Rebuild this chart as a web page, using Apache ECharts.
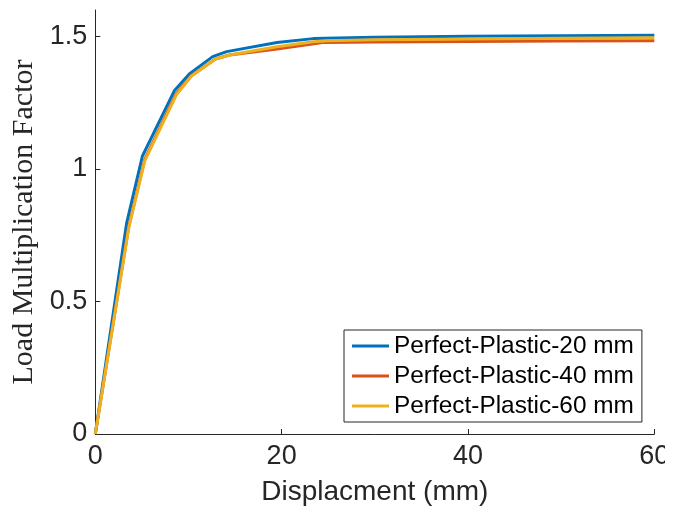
<!DOCTYPE html>
<html>
<head>
<meta charset="utf-8">
<script src="https://cdn.jsdelivr.net/npm/echarts@6/dist/echarts.min.js"></script>
<style>html,body{margin:0;padding:0;background:#fff}#c{width:665px;height:510px}</style>
</head>
<body>
<div id="c"></div>
<script>
const seriesNames = ['Perfect-Plastic-20 mm', 'Perfect-Plastic-40 mm', 'Perfect-Plastic-60 mm'];
const x20 = [0, 3.37, 5.05, 8.48, 10.16, 12.6, 14.1, 19.5, 23.4, 30, 40, 50, 60];
const y20 = [0, 0.797, 1.048, 1.295, 1.361, 1.424, 1.443, 1.477, 1.492, 1.497, 1.501, 1.503, 1.505];
const x40 = [0, 3.6, 5.3, 8.7, 10.3, 12.9, 14.4, 19.5, 24.4, 30, 40, 50, 60];
const y40 = [0, 0.785, 1.035, 1.285, 1.352, 1.415, 1.43, 1.453, 1.477, 1.479, 1.481, 1.483, 1.484];
const x60 = [0, 3.6, 5.3, 8.7, 10.3, 12.9, 14.4, 19.5, 23.4, 25, 30, 40, 50, 60];
const y60 = [0, 0.78, 1.03, 1.28, 1.35, 1.415, 1.43, 1.461, 1.48, 1.484, 1.488, 1.491, 1.493, 1.495];
const xTicks = [0, 20, 40, 60];
const yTicks = [0, 0.5, 1, 1.5];
const colors = ['#0072BD', '#D95319', '#EDB120'];

const pairs = (xs, ys) => xs.map((x, i) => [x, ys[i]]);
const allData = [pairs(x20, y20), pairs(x40, y40), pairs(x60, y60)];

const chart = echarts.init(document.getElementById('c'), null, {renderer: 'canvas'});
const axisColor = '#262626';
chart.setOption({
  animation: false,
  grid: {left: 95.3, right: 10.7, top: 10, bottom: 76, containLabel: false, outerBoundsMode: 'none'},
  xAxis: {
    type: 'value', min: 0, max: 60, interval: 20,
    name: 'Displacment (mm)', nameLocation: 'middle', nameGap: 44,
    nameTextStyle: {fontFamily: 'Liberation Sans', fontSize: 28, color: axisColor},
    axisLine: {show: true, lineStyle: {color: axisColor, width: 1}},
    axisTick: {show: true, inside: true, length: 5, lineStyle: {color: axisColor}, customValues: xTicks},
    axisLabel: {fontFamily: 'Liberation Sans', fontSize: 27, color: axisColor, margin: 9, customValues: xTicks},
    splitLine: {show: false}
  },
  yAxis: {
    type: 'value', min: 0, max: 1.6, interval: 0.5,
    name: 'Load Multiplication Factor', nameLocation: 'middle', nameGap: 52,
    nameTextStyle: {fontFamily: 'Liberation Serif', fontSize: 30, color: axisColor},
    axisLine: {show: true, lineStyle: {color: axisColor, width: 1}},
    axisTick: {show: true, inside: true, length: 5, lineStyle: {color: axisColor}, customValues: yTicks},
    axisLabel: {fontFamily: 'Liberation Sans', fontSize: 27, color: axisColor, margin: 8, customValues: yTicks},
    splitLine: {show: false}
  },
  legend: {
    orient: 'vertical', left: 344, top: 330,
    padding: [4, 8, 4, 8], itemGap: 6,
    itemWidth: 37, itemHeight: 3, icon: 'rect',
    backgroundColor: '#fff', borderColor: axisColor, borderWidth: 1,
    textStyle: {fontFamily: 'Liberation Sans', fontSize: 24.4, color: '#000', lineHeight: 24},
    data: seriesNames
  },
  series: seriesNames.map((n, i) => ({
    name: n, type: 'line', data: allData[i], symbol: 'none', color: colors[i],
    lineStyle: {width: 3, color: colors[i]}, z: 2 + i
  }))
});
</script>
</body>
</html>
